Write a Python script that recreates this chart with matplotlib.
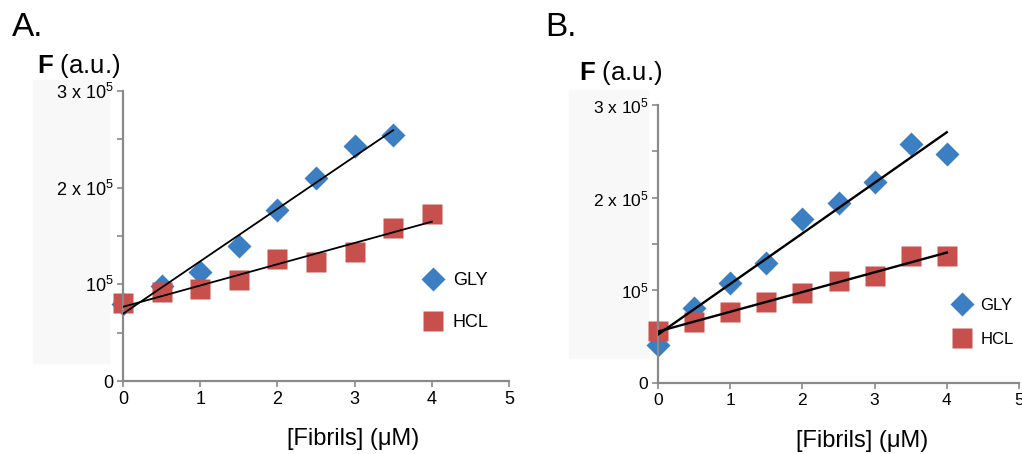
import matplotlib
matplotlib.use("Agg")
import matplotlib.pyplot as plt
from matplotlib.patches import Rectangle
import numpy as np

plt.rcParams['font.family'] = ['Liberation Sans', 'DejaVu Sans']
plt.rcParams['mathtext.fontset'] = 'custom'
plt.rcParams['mathtext.rm'] = 'Liberation Sans'
plt.rcParams['mathtext.bf'] = 'Liberation Sans:bold'
plt.rcParams['mathtext.default'] = 'regular'

# Panel A data (fluorescence, a.u.)
x_gly_a = [0, 0.5, 1, 1.5, 2, 2.5, 3, 3.5]
y_gly_a = [0.80e5, 0.98e5, 1.13e5, 1.40e5, 1.77e5, 2.10e5, 2.43e5, 2.55e5]
x_hcl_a = [0, 0.5, 1, 1.5, 2, 2.5, 3, 3.5, 4]
y_hcl_a = [0.81e5, 0.92e5, 0.955e5, 1.05e5, 1.26e5, 1.23e5, 1.33e5, 1.585e5, 1.73e5]

# Panel B data
x_gly_b = [0, 0.5, 1, 1.5, 2, 2.5, 3, 3.5, 4]
y_gly_b = [0.41e5, 0.81e5, 1.08e5, 1.30e5, 1.77e5, 1.94e5, 2.17e5, 2.58e5, 2.47e5]
x_hcl_b = [0, 0.5, 1, 1.5, 2, 2.5, 3, 3.5, 4]
y_hcl_b = [0.564e5, 0.66e5, 0.765e5, 0.87e5, 0.97e5, 1.10e5, 1.16e5, 1.375e5, 1.37e5]

ytick_vals = [0, 1e5, 2e5, 3e5]
ytick_labels = ["0", "10$^5$", "2 x 10$^5$", "3 x 10$^5$"]
xtick_vals = [0, 1, 2, 3, 4, 5]

blue = "#3b7fc2"
red = "#c8504c"
axis_gray = "#8a8a8a"

W, H = 1022, 454
fig = plt.figure(figsize=(W / 100, H / 100), dpi=100)

# faint gray patches behind the y labels (as in the scanned figure)
for (x0, y0, x1, y1) in [(33, 80, 109, 363), (569, 90, 648, 358)]:
    fig.patches.append(Rectangle((x0 / W, 1 - y1 / H), (x1 - x0) / W, (y1 - y0) / H,
                                 transform=fig.transFigure, color="#f8f8f8", zorder=-5))


def draw_panel(ax, xg, yg, xh, yh, fs, lw, leg_anchor, leg_fs, leg_space):
    # linear trend lines
    pg = np.polyfit(xg, yg, 1)
    ph = np.polyfit(xh, yh, 1)
    xl = np.array([min(xg), max(xg)])
    ax.plot(xl, np.polyval(pg, xl), color="black", lw=lw, zorder=3)
    xl = np.array([min(xh), max(xh)])
    ax.plot(xl, np.polyval(ph, xl), color="black", lw=lw, zorder=3)

    ax.plot(xg, yg, "D", color=blue, ms=12.5, mec="none", label="GLY", zorder=2, clip_on=False)
    ax.plot(xh, yh, "s", color=red, ms=14.5, mec="none", label="HCL", zorder=2, clip_on=False)

    ax.set_xlim(0, 5)
    ax.set_ylim(0, 3e5)
    ax.set_yticks(ytick_vals)
    ax.set_yticklabels(ytick_labels)
    ax.set_yticks(np.arange(0, 3.01e5, 0.5e5), minor=True)
    ax.set_xticks(xtick_vals)
    ax.set_xticklabels([str(v) for v in xtick_vals])
    for s in ["top", "right"]:
        ax.spines[s].set_visible(False)
    for s in ["left", "bottom"]:
        ax.spines[s].set_color(axis_gray)
        ax.spines[s].set_linewidth(1.6)
    ax.tick_params(axis="both", which="both", color=axis_gray, width=1.2,
                   length=4, labelsize=fs, pad=3)
    ax.patch.set_alpha(0)

    leg = ax.legend(loc="center left", bbox_to_anchor=leg_anchor, frameon=False,
                    fontsize=leg_fs, handlelength=1.0, handletextpad=0.6,
                    labelspacing=leg_space, borderpad=0, borderaxespad=0)
    return leg


# Panel A
axA = fig.add_axes([123 / W, 1 - 381 / H, (509 - 123) / W, (381 - 91) / H])
draw_panel(axA, x_gly_a, y_gly_a, x_hcl_a, y_hcl_a, 13, 1.3, (0.78, 0.274), 13, 1.4)
axA.set_xlabel("[Fibrils] (μM)", fontsize=17)
axA.xaxis.set_label_coords((353 - 123) / 386, (381 - 428) / 290)
axA.xaxis.label.set_va("top")

# Panel B
axB = fig.add_axes([658 / W, 1 - 383 / H, (1019 - 658) / W, (383 - 105) / H])
draw_panel(axB, x_gly_b, y_gly_b, x_hcl_b, y_hcl_b, 12.5, 1.7, (0.819, 0.218), 12, 1.13)
axB.set_xlabel("[Fibrils] (μM)", fontsize=17)
axB.xaxis.set_label_coords((862 - 658) / 361, (383 - 430) / 278)
axB.xaxis.label.set_va("top")

# panel letters and y titles
fig.text(12 / W, 1 - 36 / H, "A.", fontsize=24, va="baseline")
fig.text(545 / W, 1 - 36 / H, "B.", fontsize=24, va="baseline")
fig.text(37 / W, 1 - 73 / H, r"$\mathbf{F}$ (a.u.)", fontsize=18.5, va="baseline")
fig.text(579 / W, 1 - 80 / H, r"$\mathbf{F}$ (a.u.)", fontsize=18.5, va="baseline")

fig.savefig("out.png", dpi=100)
